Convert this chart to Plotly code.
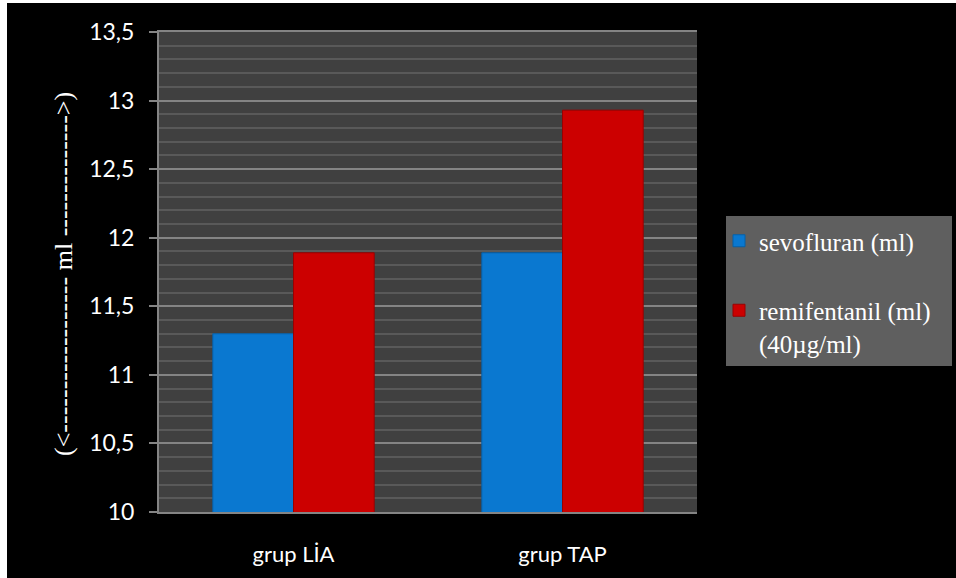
import plotly.graph_objects as go

categories = ["grup LİA", "grup TAP"]
sevofluran = [11.30, 11.89]
remifentanil = [11.89, 12.93]
series_names = ["sevofluran (ml)", "remifentanil (ml)<br>(40µg/ml)"]
y_title = "(<" + "-" * 18 + " ml " + "-" * 14 + ">)"

W, H = 956, 578
L, R, T, B = 159, 697, 32, 512
def px(x): return (x - L) / (R - L)
def py(y): return (B - y) / (B - T)

fig = go.Figure()
fig.add_trace(go.Bar(x=categories, y=sevofluran, name=series_names[0],
                     marker=dict(color="#0A78D0", line=dict(color="#0660A8", width=1)),
                     legendgroup="a"))
fig.add_trace(go.Bar(x=categories, y=remifentanil, name=series_names[1],
                     marker=dict(color="#CC0000", line=dict(color="#9A0000", width=1)),
                     legendgroup="b"))

fig.update_layout(
    width=W, height=H,
    margin=dict(l=L, r=W - R, t=T, b=H - B, pad=0),
    paper_bgcolor="black",
    plot_bgcolor="#404040",
    separators=", ",
    barmode="group", bargap=0.4, bargroupgap=0,
    font=dict(family="Lato", color="white"),
    showlegend=True,
    legend=dict(x=px(719), y=py(218), xanchor="left", yanchor="top",
                bgcolor="rgba(0,0,0,0)", font=dict(family="Liberation Serif", size=25, color="white"),
                traceorder="grouped", tracegroupgap=34, valign="top"),
    shapes=[
        dict(type="rect", xref="paper", yref="paper", x0=px(-5), x1=px(7), y0=py(600), y1=py(-5),
             fillcolor="white", line=dict(width=0), layer="above"),
        dict(type="rect", xref="paper", yref="paper", x0=px(-5), x1=px(960), y0=py(3), y1=py(-5),
             fillcolor="white", line=dict(width=0), layer="above"),
        dict(type="rect", xref="paper", yref="paper", x0=px(726), x1=px(952), y0=py(366), y1=py(216),
             fillcolor="#5F5F5F", line=dict(width=0), layer="below"),
    ],
    annotations=[
        dict(text=y_title, xref="paper", yref="paper", x=px(63), y=py(274),
             showarrow=False, textangle=-90, xanchor="center", yanchor="middle",
             font=dict(family="Liberation Serif", size=26, color="white")),
    ],
)

fig.update_yaxes(range=[10, 13.5], dtick=0.5, tick0=10,
                 showgrid=True, gridcolor="#848484", gridwidth=2,
                 showline=True, linecolor="#848484", linewidth=2,
                 ticks="outside", ticklen=8, tickcolor="#848484", tickwidth=2,
                 ticklabelstandoff=10,
                 tickfont=dict(family="Lato", size=23, color="white"),
                 minor=dict(dtick=0.1, showgrid=True, gridcolor="#595959", gridwidth=2, ticks=""),
                 zeroline=False, fixedrange=True)
fig.update_xaxes(showgrid=False, showline=True, linecolor="#848484", linewidth=2, mirror=True,
                 ticks="", ticklabelstandoff=22,
                 tickfont=dict(family="Lato", size=22, color="white"), fixedrange=True)

fig.write_html("out.html")
